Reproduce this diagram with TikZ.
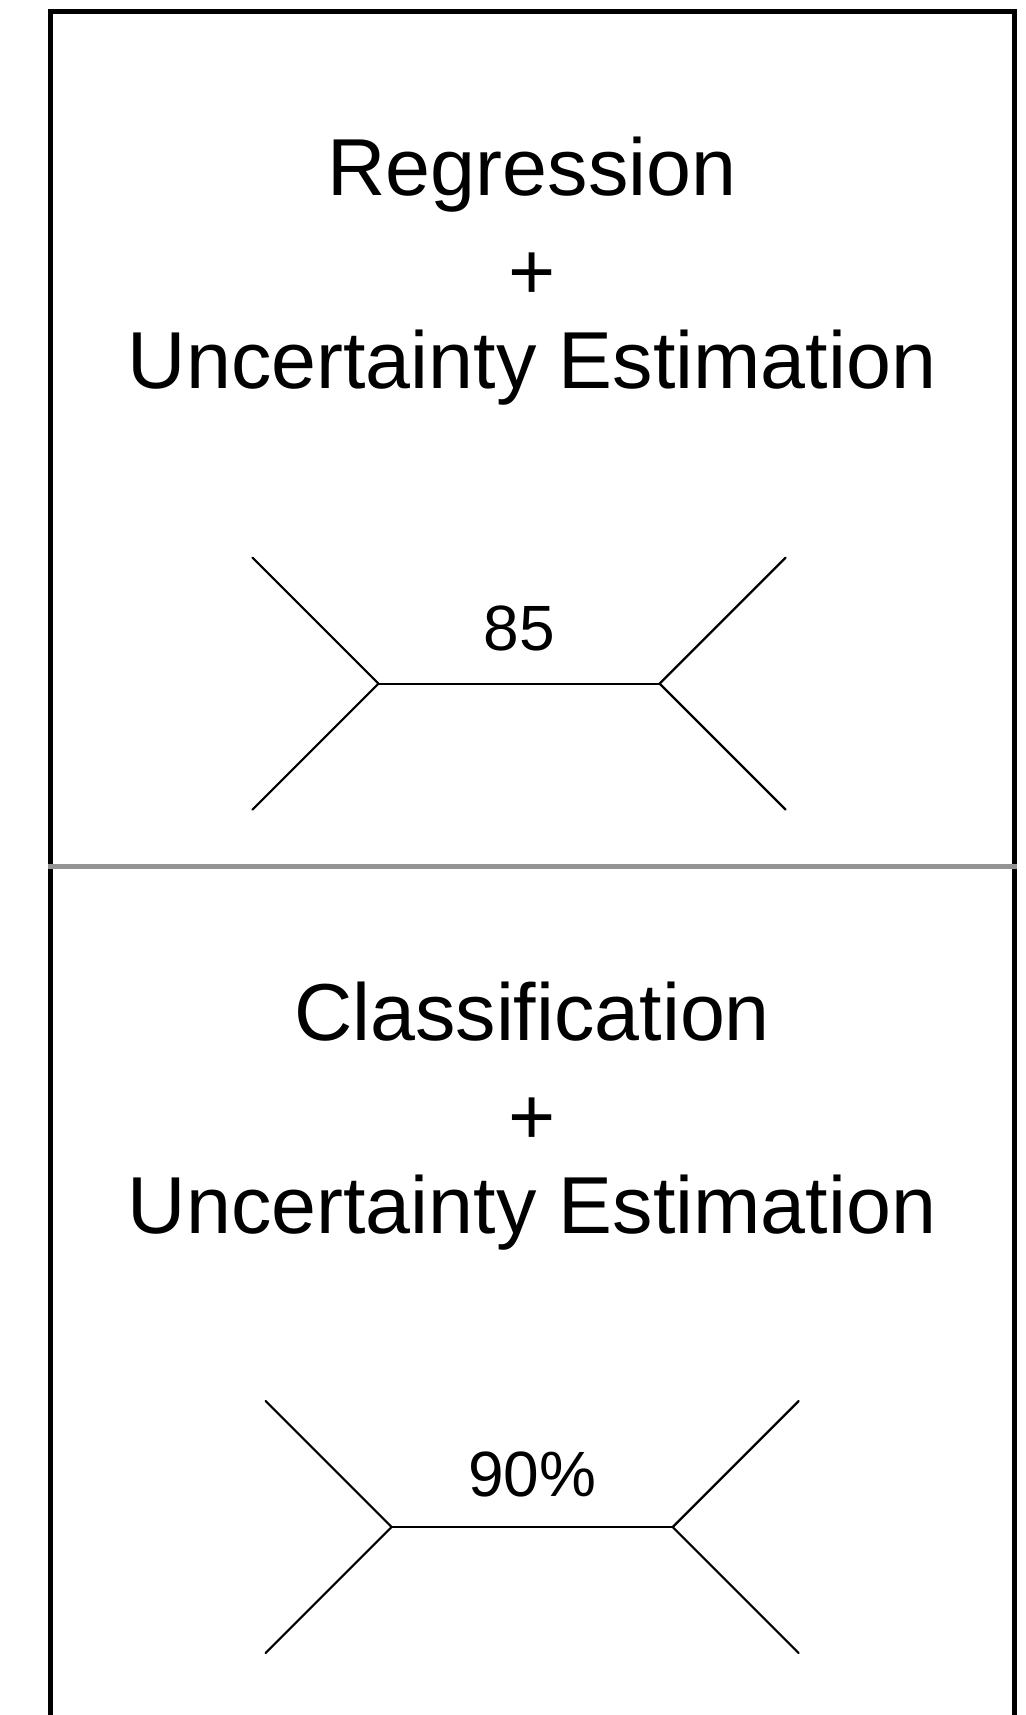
\documentclass[tikz,border=0pt]{standalone}
\usepackage{fontspec}
\setmainfont{Liberation Sans}
\usepackage{xcolor}
\usetikzlibrary{calc}
\definecolor{panelrule}{HTML}{939393}

\begin{document}
\begin{tikzpicture}[x=0.5pt, y=-0.5pt,
 title/.style={anchor=base, inner sep=0pt, font=\fontsize{40.4}{48}\selectfont},
 score/.style={anchor=base, inner sep=0pt, font=\fontsize{32}{38}\selectfont},
 branch/.style={line width=1.1pt, line cap=round}]
\useasboundingbox (0,0) rectangle (1026,1715);
\clip (0,0) rectangle (1026,1715);

% frame, open at the bottom
\draw[line width=2.5pt] (50.5,1740) -- (50.5,11.5) -- (1014.5,11.5) -- (1014.5,1740);
\draw[panelrule, line width=2.5pt] (48,866.5) -- (1017,866.5);

% upper panel
\node[title] (reg) at (532,195) {Regression};
\node[title] (regplus) at (532,299) {+};
\node[title] (regunc) at (532,388) {Uncertainty Estimation};

\coordinate (rl) at (378.5,683.6);
\coordinate (rr) at (659.6,683.6);
\coordinate (rtl) at ($(rl)+(-126,-126)$);
\coordinate (rbl) at ($(rl)+(-126,126)$);
\coordinate (rtr) at ($(rr)+(126,-126)$);
\coordinate (rbr) at ($(rr)+(126,126)$);
\draw[branch] (rtl) -- (rl) -- (rbl);
\draw[branch] (rtr) -- (rr) -- (rbr);
\draw[branch] (rl) -- (rr);
\node[score] (regval) at ($(rl)!0.5!(rr)+(0,-33)$) {85};

% lower panel
\node[title] (cls) at (532,1040) {Classification};
\node[title] (clsplus) at (532,1144) {+};
\node[title] (clsunc) at (532,1233) {Uncertainty Estimation};

\coordinate (cl) at (391.6,1527);
\coordinate (cr) at (672.7,1527);
\coordinate (ctl) at ($(cl)+(-126,-126)$);
\coordinate (cbl) at ($(cl)+(-126,126)$);
\coordinate (ctr) at ($(cr)+(126,-126)$);
\coordinate (cbr) at ($(cr)+(126,126)$);
\draw[branch] (ctl) -- (cl) -- (cbl);
\draw[branch] (ctr) -- (cr) -- (cbr);
\draw[branch] (cl) -- (cr);
\node[score] (clsval) at ($(cl)!0.5!(cr)+(0,-31)$) {90\%};

\end{tikzpicture}
\end{document}
